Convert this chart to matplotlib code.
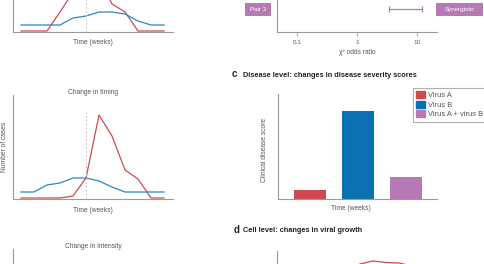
import numpy as np
import matplotlib
matplotlib.use('Agg')
import matplotlib.pyplot as plt
from matplotlib.patches import Rectangle

plt.rcParams['font.family'] = ['Liberation Sans', 'DejaVu Sans']

# datos
weeks = np.arange(12)
top_red = [1, 1, 1, 20, 40, 80, 54, 28, 20, 1, 1, 1]
top_blue = [7, 7, 7, 7, 14, 16, 20, 20, 18, 11, 7, 7]
timing_red = [1, 1, 1, 1, 3, 21, 84, 63, 29, 20, 1, 1]
timing_blue = [7, 7, 14, 16, 21, 21, 18, 12, 7, 7, 7, 7]
intensity_red = [1, 1, 1, 1, 3, 20, 80, 70, 40, 20, 3, 1]
growth_red = [5, 15, 30, 50, 70, 85, 91, 94, 92.5, 92, 89, 86]

odds_low = 3.4
odds_high = 12.1
odds_ticks = [0.1, 1, 10]
odds_ticklabels = ['0.1', '1', '10']

bar_labels = ['Virus A', 'Virus B', 'Virus A + virus B']
bar_values = [9, 88, 22]

RED = '#cf4a50'
BLUE = '#2a87c8'
BARBLUE = '#0b70b0'
PURPLE = '#b679b5'
GREY = '#9a9a9a'
TXT = '#555555'

W, H = 485, 264
fig = plt.figure(figsize=(W / 100, H / 100), dpi=100)


def ax_px(x0, y0, x1, y1):
    ax = fig.add_axes([x0 / W, 1 - y1 / H, (x1 - x0) / W, (y1 - y0) / H])
    ax.set_facecolor('none')
    for s in ['top', 'right']:
        ax.spines[s].set_visible(False)
    for s in ['left', 'bottom']:
        ax.spines[s].set_color(GREY)
        ax.spines[s].set_linewidth(0.8)
    return ax


def ftext(x, y, s, **kw):
    kw.setdefault('fontsize', 4.8)
    kw.setdefault('color', TXT)
    kw.setdefault('ha', 'center')
    kw.setdefault('va', 'center')
    fig.text(x / W, 1 - y / H, s, **kw)


def line_panel(ax, red, blue=None):
    ax.plot(weeks, red, color=RED, lw=0.9)
    if blue is not None:
        ax.plot(weeks, blue, color=BLUE, lw=0.9)
    ax.axvline(5, ymax=0.84, color='#c8c8c8', ls=(0, (2, 2)), lw=0.7)
    ax.set_xlim(-0.615, 11.69)
    ax.set_ylim(0, 104)
    ax.set_xticks([])
    ax.set_yticks([])


# panel arriba izquierda (cortado)
ax1 = ax_px(13, -72, 173, 32)
line_panel(ax1, top_red, top_blue)
ftext(93, 42, 'Time (weeks)')

# cambio en timing
ax2 = ax_px(13, 95, 173, 199)
line_panel(ax2, timing_red, timing_blue)
ftext(93, 93, 'Change in timing')
ftext(93, 210, 'Time (weeks)')
ftext(5, 147, 'Number of cases', rotation=90)

# cambio en intensidad
ax3 = ax_px(13, 249, 173, 353)
line_panel(ax3, intensity_red)
ftext(93, 247, 'Change in intensity')

# odds ratio
ax4 = ax_px(277, -72, 437, 32)
ax4.set_xscale('log')
ax4.set_xlim(10 ** -1.333, 10 ** 1.333)
ax4.set_ylim(0, 104)
mid = np.sqrt(odds_low * odds_high)
ax4.errorbar([mid], [23], xerr=[[mid - odds_low], [odds_high - mid]],
             fmt='none', ecolor=PURPLE, elinewidth=0.9, capsize=2.5, capthick=0.9)
ax4.set_xticks(odds_ticks)
ax4.set_xticklabels(odds_ticklabels)
ax4.minorticks_off()
ax4.tick_params(axis='x', length=3, width=0.6, color=GREY, labelsize=4.5, labelcolor=TXT, pad=3)
ax4.set_yticks([])
ftext(357, 52, 'χ² odds ratio')
for (x0, x1, lab) in [(245, 271, 'Pair 3'), (436, 483, 'Synergistic')]:
    fig.add_artist(Rectangle((x0 / W, 1 - 16 / H), (x1 - x0) / W, 13 / H,
                             transform=fig.transFigure, facecolor=PURPLE, edgecolor='none'))
    ftext((x0 + x1) / 2, 9.5, lab, color='white', fontsize=4.5)

# panel c
ftext(234, 74, 'c', fontsize=7, fontweight='bold', color='#222222')
ftext(243, 75, 'Disease level: changes in disease severity scores', ha='left',
      fontsize=5.35, fontweight='bold', color='#222222')
ax5 = ax_px(278, 94, 437, 199)
ax5.bar(range(3), bar_values, width=0.667, color=[RED, BARBLUE, PURPLE], label=bar_labels)
ax5.set_xlim(-0.667, 2.646)
ax5.set_ylim(0, 105)
ax5.set_xticks([])
ax5.set_yticks([])
ftext(351, 209, 'Time (weeks)')
ftext(265, 150, 'Clinical disease score', rotation=90)
handles = [Rectangle((0, 0), 1, 1, color=c) for c in [RED, BARBLUE, PURPLE]]
leg = fig.legend(handles, bar_labels, loc='upper left', bbox_to_anchor=(413 / W, 1 - 88 / H),
                 fontsize=5.4, frameon=True, fancybox=False, handlelength=1.1, handleheight=1.0,
                 handletextpad=0.5, borderpad=0.45, labelspacing=0.2, borderaxespad=0)
leg.get_frame().set_edgecolor(GREY)
leg.get_frame().set_linewidth(0.8)
for t in leg.get_texts():
    t.set_color(TXT)

# panel d
ftext(237, 230, 'd', fontsize=7, fontweight='bold', color='#222222')
ftext(243, 231, 'Cell level: changes in viral growth', ha='left',
      fontsize=5.35, fontweight='bold', color='#222222')
ax6 = ax_px(277, 251, 437, 355)
ax6.plot(weeks, growth_red, color=RED, lw=0.9)
ax6.set_xlim(-5 / 13, 155 / 13)
ax6.set_ylim(0, 104)
ax6.set_xticks([])
ax6.set_yticks([])

fig.savefig('out.png', dpi=100)
